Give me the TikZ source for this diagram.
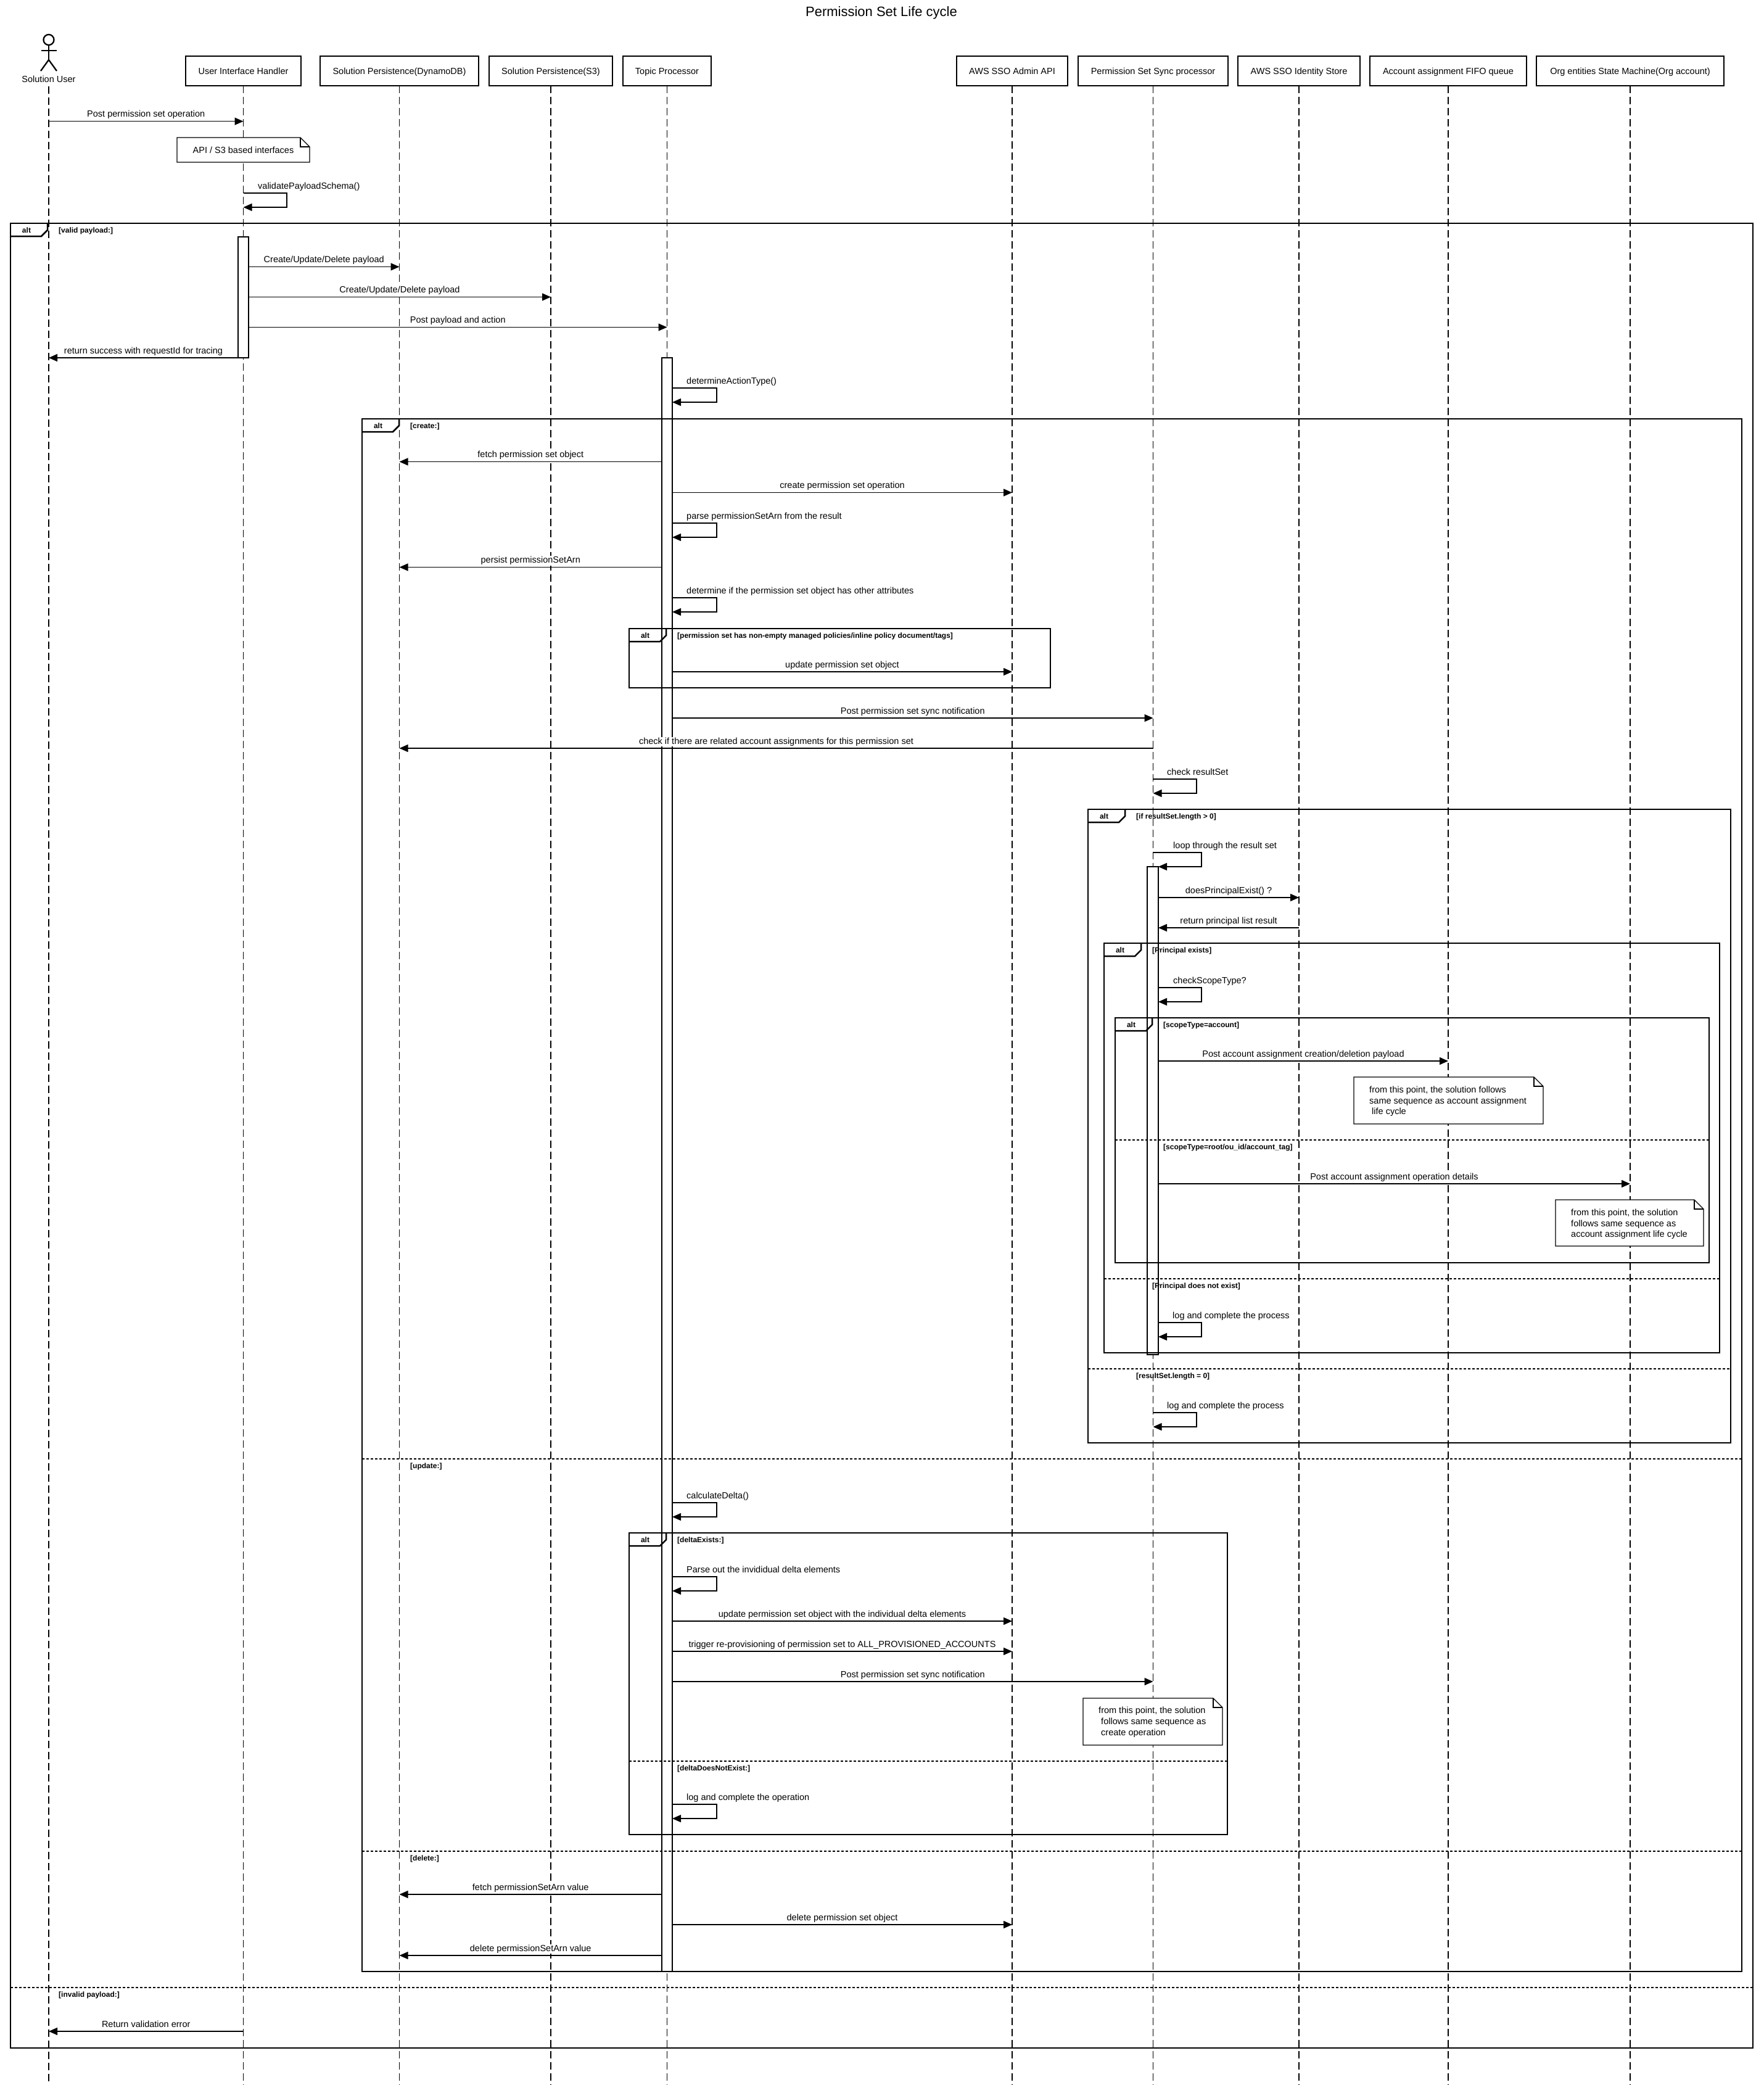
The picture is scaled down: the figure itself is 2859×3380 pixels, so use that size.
\documentclass[tikz,border=0pt]{standalone}
\usepackage{fontspec}
\setmainfont{Liberation Sans}
\usetikzlibrary{arrows.meta}

\newcommand{\txt}{\fontsize{14.5}{17.5}\selectfont}
\newcommand{\gtxt}{\bfseries\fontsize{12}{14}\selectfont}

\tikzset{
  lifeline/.style={line width=1.3pt, dash pattern=on 12pt off 6pt},
  partbox/.style={draw, line width=2.5pt, fill=white, minimum height=48pt, inner sep=0pt,
                  font=\txt, text height=10.4pt, text depth=0pt},
  frameline/.style={line width=2.5pt, line join=miter},
  sepline/.style={line width=2pt, dash pattern=on 4pt off 3pt},
  guardlabel/.style={font=\gtxt, anchor=base west, inner sep=0pt},
  altlabel/.style={font=\gtxt, anchor=base, inner sep=0pt},
  activation/.style={draw, fill=white, line width=1.2pt},
  msg/.style={line width=1.5pt, line join=miter, -{Triangle[length=14pt,width=12pt]}},
  msglabel/.style={font=\txt, anchor=base, fill=white, inner xsep=1pt, inner ysep=1pt},
  selflabel/.style={font=\txt, anchor=base west, inner sep=0pt},
  notebox/.style={draw, fill=white, line width=1.2pt, line join=miter},
  notetext/.style={font=\txt, anchor=base west, inner sep=0pt},
}

% message: name, x1, x2, y, label
\newcommand{\msg}[5]{%
  \draw[msg] (#2,#4) -- (#3,#4);
  \node[msglabel] (#1) at ({(#2+#3)/2},{#4-7}) {#5};}
% self message: name, xstart, xtip, xright, ytop, label, labelx
\newcommand{\selfmsg}[7]{%
  \draw[msg] (#2,#5) -- (#4,#5) -- (#4,{#5+23}) -- (#3,{#5+23});
  \node[selflabel] (#1) at (#7,{#5-7}) {#6};}
% alt frame: name, L, T, R, B, guard
\newcommand{\altframe}[6]{%
  \draw[frameline] (#2,#3) rectangle (#4,#5);
  \draw[frameline] ({#2+60},#3) -- ({#2+60},{#3+11}) -- ({#2+50},{#3+21}) -- (#2,{#3+21});
  \node[altlabel] (#1a) at ({#2+26},{#3+15.3}) {alt};
  \node[guardlabel] (#1g) at ({#2+78},{#3+15.3}) {#6};}
% separator: name, L, R, Y, guard
\newcommand{\altsep}[5]{%
  \draw[sepline] (#2,#4) -- (#3,#4);
  \node[guardlabel] (#1) at ({#2+78},{#4+15.3}) {#5};}
% note shape: L, T, R, B
\newcommand{\noteshape}[4]{%
  \draw[notebox] (#1,#2) -- ({#3-15},#2) -- (#3,{#2+15}) -- (#3,#4) -- (#1,#4) -- cycle;
  \draw[line width=1.2pt, line join=miter] ({#3-15},#2) -- ({#3-15},{#2+15}) -- (#3,{#2+15});}

\begin{document}
\begin{tikzpicture}[x=1pt, y=-1pt]
\useasboundingbox (0,0) rectangle (2859,3380);

% title
\node[font=\fontsize{22}{26}\selectfont, anchor=base, inner sep=0pt] (title) at (1429,26.4) {Permission Set Life cycle};

% actor
\draw[line width=2.3pt] (79,64.5) circle (8.5pt);
\draw[line width=2.3pt] (79,73) -- (79,97);
\draw[line width=2.3pt] (67,82) -- (92,82);
\draw[line width=2.3pt] (66,115) -- (79,97) -- (92,115);
\node[font=\txt, anchor=base, inner sep=0pt] (user) at (79,133.2) {Solution User};

% lifelines
\draw[lifeline] (79,140) -- (79,3380);
\foreach \lx in {394.5,647.5,893,1081.5,1641,1869.5,2106,2348,2643}
  \draw[lifeline] (\lx,139) -- (\lx,3380);

% participants
\node[partbox, minimum width=187pt] (ui) at (394.5,115) {User Interface Handler};
\node[partbox, minimum width=257pt] (dynamo) at (647.5,115) {Solution Persistence(DynamoDB)};
\node[partbox, minimum width=200pt] (s3) at (893,115) {Solution Persistence(S3)};
\node[partbox, minimum width=143pt] (topic) at (1081.5,115) {Topic Processor};
\node[partbox, minimum width=180pt] (admin) at (1641,115) {AWS SSO Admin API};
\node[partbox, minimum width=243pt] (sync) at (1869.5,115) {Permission Set Sync processor};
\node[partbox, minimum width=198pt] (idstore) at (2106,115) {AWS SSO Identity Store};
\node[partbox, minimum width=254pt] (fifo) at (2348,115) {Account assignment FIFO queue};
\node[partbox, minimum width=304pt] (org) at (2643,115) {Org entities State Machine(Org account)};

% activations (under the frames)
\draw[activation] (386,384) rectangle (403,580);
\draw[activation] (1073,580) rectangle (1090,3196);
\draw[activation] (1860,1405) rectangle (1878,2196);

% frames
\altframe{fA}{17}{362}{2842}{3320}{[valid payload:]}
\altsep{fAs}{17}{2842}{3222}{[invalid payload:]}
\altframe{fB}{587}{679}{2824}{3196}{[create:]}
\altsep{fBs}{587}{2824}{2365}{[update:]}
\altsep{fBt}{587}{2824}{3001}{[delete:]}
\altframe{fC}{1020}{1019}{1703}{1115}{[permission set has non-empty managed policies/inline policy document/tags]}
\altframe{fD}{1764}{1312}{2806}{2339}{[if resultSet.length > 0]}
\altsep{fDs}{1764}{2806}{2219}{[resultSet.length = 0]}
\altframe{fE}{1790}{1529}{2788}{2193}{[Principal exists]}
\altsep{fEs}{1790}{2788}{2073}{[Principal does not exist]}
\altframe{fF}{1808}{1650}{2771}{2047}{[scopeType=account]}
\altsep{fFs}{1808}{2771}{1848}{[scopeType=root/ou\_id/account\_tag]}
\altframe{fG}{1020}{2485}{1990}{2974}{[deltaExists:]}
\altsep{fGs}{1020}{1990}{2855}{[deltaDoesNotExist:]}

% notes
\noteshape{287}{223}{502}{263}
\node[font=\txt, anchor=base, inner sep=0pt] (n0) at (394.5,248) {API / S3 based interfaces};
\noteshape{2195}{1746}{2502}{1822}
\node[notetext] (n1a) at (2220,1771) {from this point, the solution follows};
\node[notetext] (n1b) at (2220,1789) {same sequence as account assignment};
\node[notetext] (n1c) at (2224,1806) {life cycle};
\noteshape{2522}{1945}{2762}{2020}
\node[notetext] (n2a) at (2547,1970) {from this point, the solution};
\node[notetext] (n2b) at (2547,1988) {follows same sequence as};
\node[notetext] (n2c) at (2547,2005) {account assignment life cycle};
\noteshape{1756}{2753}{1982}{2829}
\node[notetext] (n3a) at (1781,2777) {from this point, the solution};
\node[notetext] (n3b) at (1785,2795) {follows same sequence as};
\node[notetext] (n3c) at (1785,2813) {create operation};

% messages
\msg{m1}{79}{394.5}{196.7}{Post permission set operation}
\selfmsg{m2}{394.5}{394.5}{465}{313}{validatePayloadSchema()}{418}
\msg{m3}{403}{647.5}{432.5}{Create/Update/Delete payload}
\msg{m4}{403}{893}{481.5}{Create/Update/Delete payload}
\msg{m5}{403}{1081.5}{530.5}{Post payload and action}
\msg{m6}{386}{79}{580}{return success with requestId for tracing}
\selfmsg{m7}{1090}{1090}{1162}{629}{determineActionType()}{1113}
\msg{m8}{1073}{647.5}{748.5}{fetch permission set object}
\msg{m9}{1090}{1641}{798.5}{create permission set operation}
\selfmsg{m10}{1090}{1090}{1162}{848}{parse permissionSetArn from the result}{1113}
\msg{m11}{1073}{647.5}{919.5}{persist permissionSetArn}
\selfmsg{m12}{1090}{1090}{1162}{969}{determine if the permission set object has other attributes}{1113}
\msg{m13}{1090}{1641}{1089}{update permission set object}
\msg{m14}{1090}{1869.5}{1164}{Post permission set sync notification}
\msg{m15}{1869.5}{647.5}{1213}{check if there are related account assignments for this permission set}
\selfmsg{m16}{1869.5}{1869.5}{1940}{1263}{check resultSet}{1892}
\selfmsg{m17}{1869.5}{1878}{1948}{1382}{loop through the result set}{1902}
\msg{m18}{1878}{2106}{1455}{doesPrincipalExist() ?}
\msg{m19}{2106}{1878}{1504}{return principal list result}
\selfmsg{m20}{1878}{1878}{1948}{1601}{checkScopeType?}{1902}
\msg{m21}{1878}{2348}{1720}{Post account assignment creation/deletion payload}
\msg{m22}{1878}{2643}{1919}{Post account assignment operation details}
\selfmsg{m23}{1878}{1878}{1948}{2144}{log and complete the process}{1901}
\selfmsg{m24}{1869.5}{1869.5}{1940}{2290}{log and complete the process}{1892}
\selfmsg{m25}{1090}{1090}{1162}{2436}{calculateDelta()}{1113}
\selfmsg{m26}{1090}{1090}{1162}{2556}{Parse out the invididual delta elements}{1113}
\msg{m27}{1090}{1641}{2628}{update permission set object with the individual delta elements}
\msg{m28}{1090}{1641}{2677}{trigger re-provisioning of permission set to ALL\_PROVISIONED\_ACCOUNTS}
\msg{m29}{1090}{1869.5}{2726}{Post permission set sync notification}
\selfmsg{m30}{1090}{1090}{1162}{2925}{log and complete the operation}{1113}
\msg{m31}{1073}{647.5}{3071}{fetch permissionSetArn value}
\msg{m32}{1090}{1641}{3120}{delete permission set object}
\msg{m33}{1073}{647.5}{3170}{delete permissionSetArn value}
\msg{m34}{394.5}{79}{3293}{Return validation error}
\end{tikzpicture}
\end{document}
